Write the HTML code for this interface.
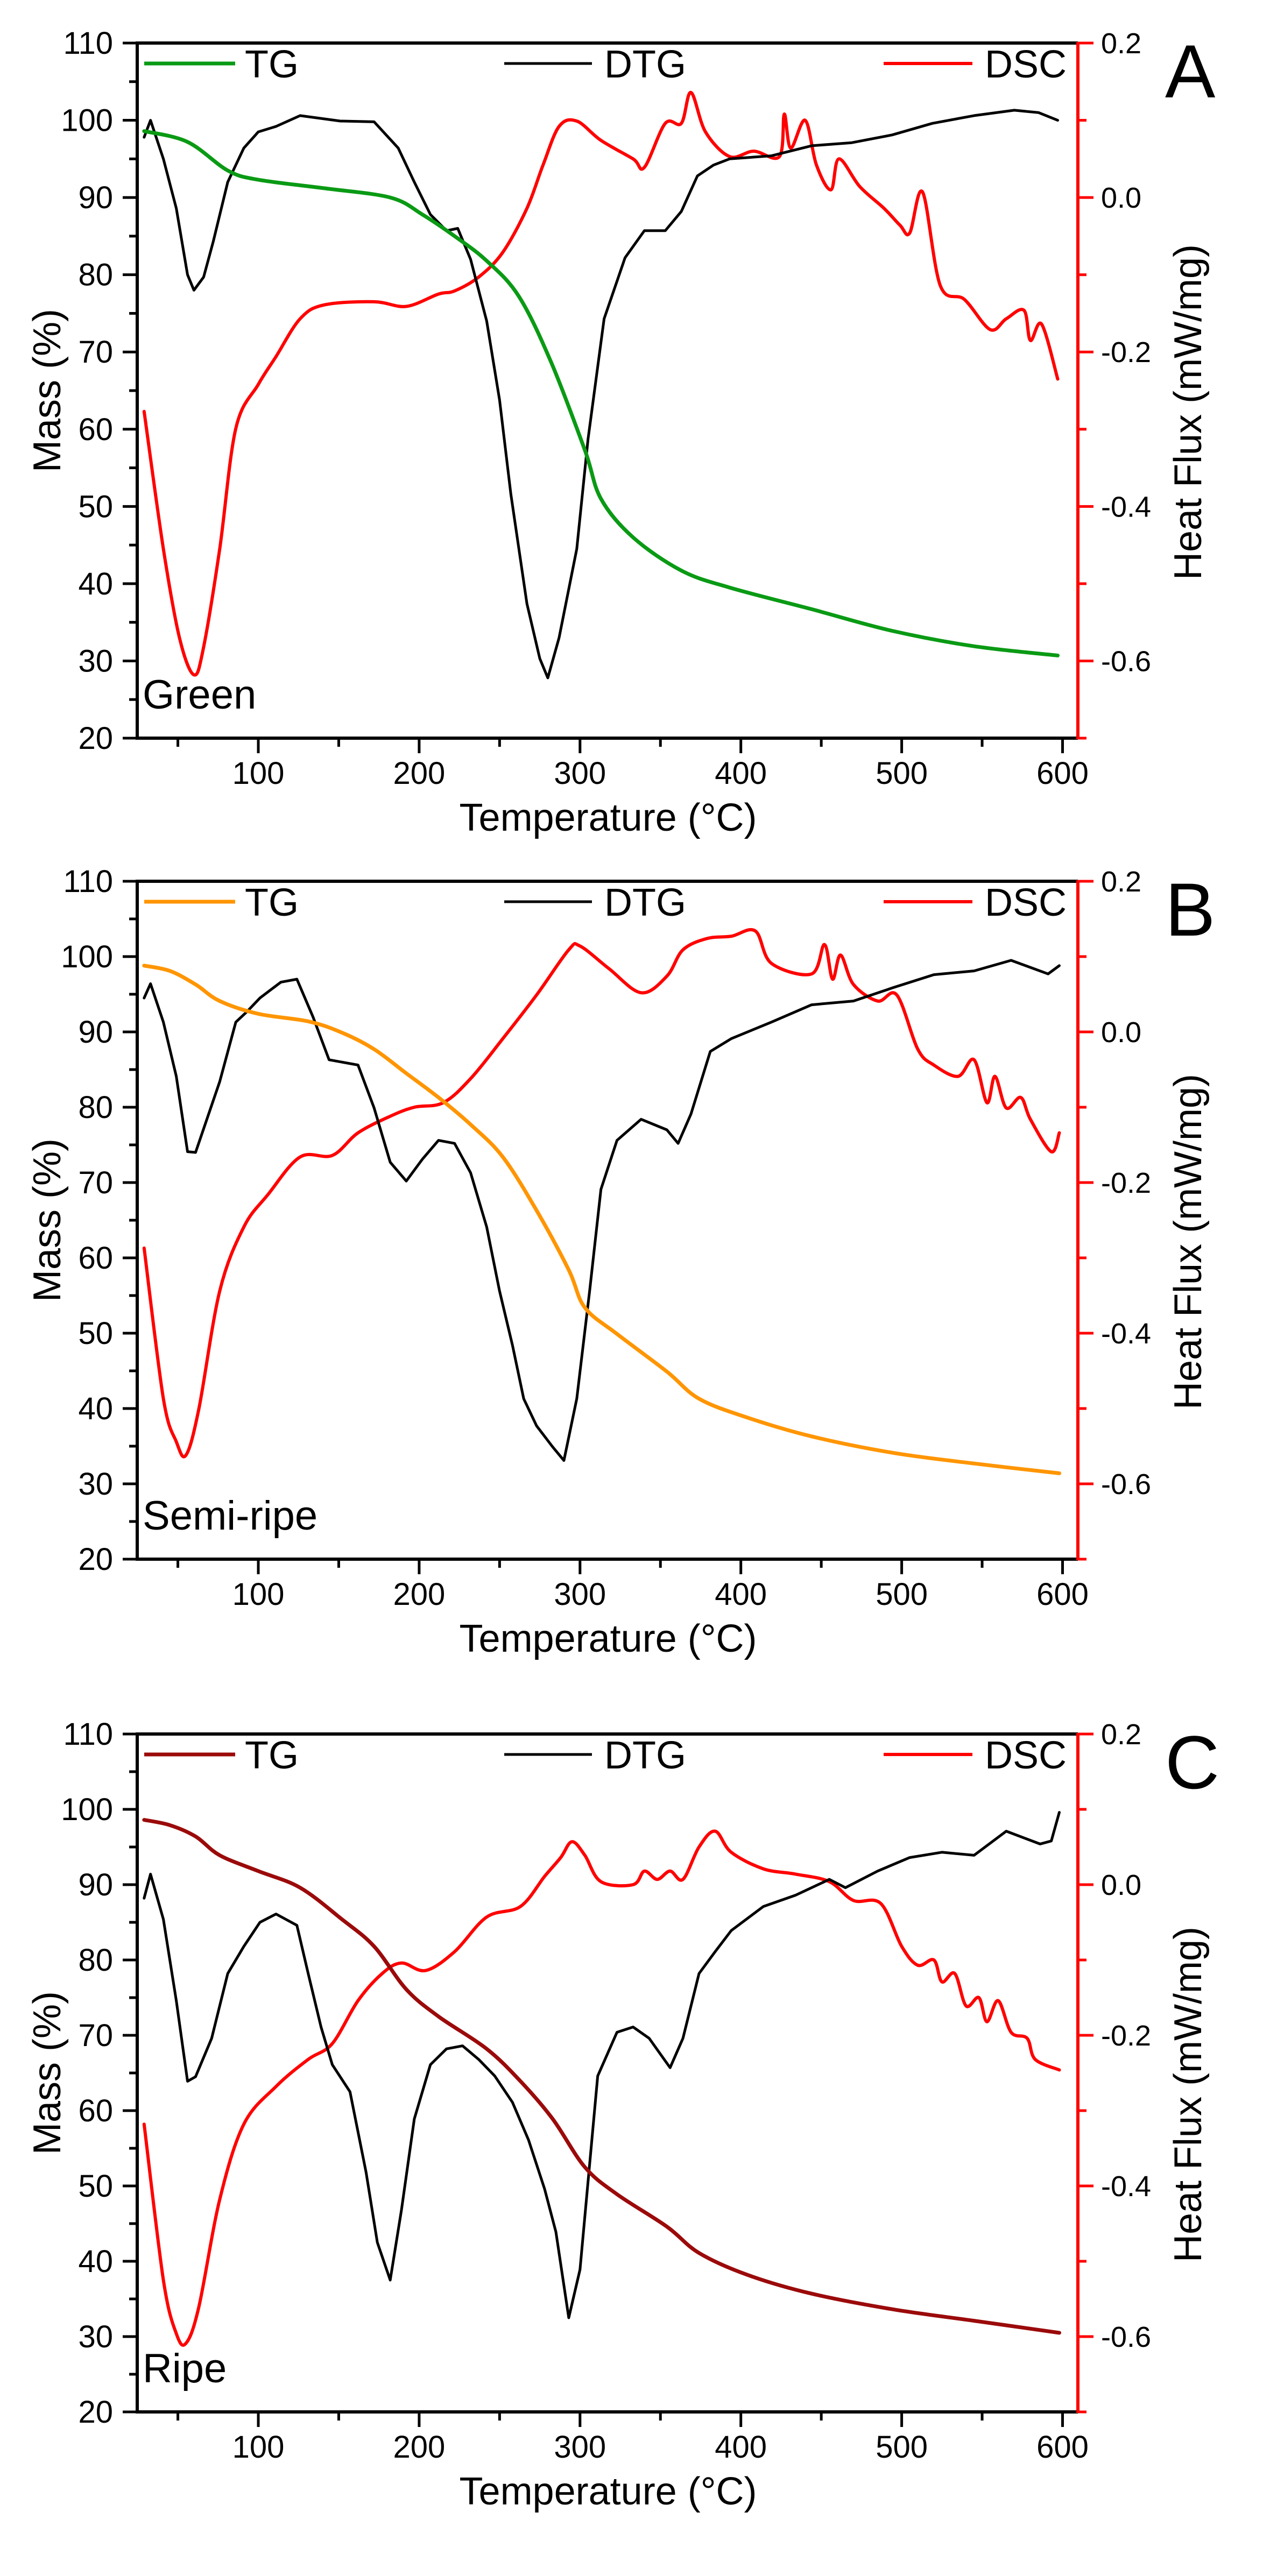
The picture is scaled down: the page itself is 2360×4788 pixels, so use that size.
<!DOCTYPE html>
<html><head><meta charset="utf-8">
<style>
html,body{margin:0;padding:0;background:#fff;}
svg{display:block;font-family:"Liberation Sans",Arial,sans-serif;}
</style></head>
<body>
<svg id="fig" width="2360" height="4788" viewBox="0 0 2360 4788" xmlns="http://www.w3.org/2000/svg"></svg>
<script>
// ---------- Panel A (Green) ----------
const tempA_TG = [29,56,81,100,141,182,202,222,242,262,282,303,313,333,363,393,444,494,545,597];
const massA_TG = [98.6,97.2,93.5,92.3,91.2,90,87.8,85,81.8,77.2,68.7,57.3,51,46,41.7,39.5,36.7,33.9,31.9,30.7];
const tempA_DTG = [29,33,41,49,56,60,66,72,81,91,100,111,126,151,172,187,197,207,217,224,232,242,250,257,267,275,280,287,298,305,315,328,340,353,363,373,383,393,419,444,469,494,519,545,570,585,597];
const valA_DTG = [97.8,100,95,88.6,80,78,79.7,84.3,92,96.4,98.5,99.2,100.6,99.9,99.8,96.4,92,87.8,85.7,86,82,74,63.8,51.6,37.4,30.3,27.8,33,44.5,58.7,74.3,82.2,85.7,85.7,88.2,92.8,94.2,95,95.4,96.7,97.1,98.1,99.6,100.6,101.3,101,100];
const tempA_DSC = [29,41,51,60,66,76,86,100,111,126,141,172,192,212,222,237,252,267,277,287,298,313,333,340,353,363,369,378,393,408,424,427,431,440,447,456,461,474,489,499,505,513,524,539,555,565,576,580,587,597];
const valA_DSC = [-0.277,-0.455,-0.57,-0.618,-0.582,-0.455,-0.299,-0.242,-0.206,-0.157,-0.139,-0.135,-0.141,-0.125,-0.121,-0.103,-0.071,-0.014,0.042,0.092,0.099,0.074,0.05,0.039,0.096,0.096,0.136,0.085,0.053,0.06,0.053,0.108,0.064,0.1,0.042,0.01,0.05,0.014,-0.014,-0.036,-0.046,0.007,-0.114,-0.132,-0.171,-0.157,-0.146,-0.185,-0.164,-0.235];

// ---------- Panel B (Semi-ripe) ----------
const tempB_TG = [29,45,61,76,100,131,152,172,192,212,232,252,273,293,303,323,354,374,404,444,495,545,598];
const massB_TG = [98.8,98.1,96.3,94.1,92.4,91.4,89.9,87.7,84.5,81.3,77.7,73.4,66.3,58.4,53.4,49.9,44.9,41.3,38.8,36.3,34.1,32.7,31.4];
const tempB_DTG = [29,33,41,49,56,61,68,76,86,93,101,114,124,134,144,162,172,182,192,202,212,222,232,242,250,258,265,273,283,290,298,306,313,323,338,354,361,369,381,394,419,444,470,495,520,545,568,591,598];
const valB_DTG = [94.5,96.4,91.3,84.1,74.1,74,78.4,83.4,91.3,92.7,94.5,96.6,97,92,86.3,85.6,79.9,72.7,70.2,73.1,75.6,75.2,71.3,64.1,55.6,48.4,41.3,37.7,34.9,33.1,41.3,55.6,69.1,75.6,78.4,77,75.2,79.1,87.4,89.1,91.3,93.6,94.1,95.9,97.6,98.1,99.5,97.7,98.8];
const tempB_DSC = [29,41,49,55,63,76,91,106,126,146,162,182,197,215,232,252,273,293,300,318,338,354,364,379,394,409,419,444,452,457,462,470,485,497,510,520,535,545,553,558,565,574,580,593,598];
const valB_DSC = [-0.287,-0.487,-0.544,-0.562,-0.501,-0.344,-0.259,-0.216,-0.166,-0.164,-0.134,-0.112,-0.1,-0.094,-0.062,-0.009,0.049,0.109,0.114,0.084,0.052,0.074,0.109,0.124,0.127,0.134,0.091,0.077,0.116,0.07,0.102,0.063,0.041,0.049,-0.023,-0.044,-0.059,-0.037,-0.094,-0.059,-0.101,-0.087,-0.116,-0.159,-0.134];

// ---------- Panel C (Ripe) ----------
const tempC_TG = [29,45,61,76,100,126,152,172,192,212,242,263,283,303,323,354,374,404,444,495,545,598];
const massC_TG = [98.6,97.9,96.4,93.9,91.8,89.6,85.4,81.8,76.1,72.5,68.2,63.9,58.9,52.5,48.9,44.6,41.1,38.2,35.7,33.6,32.1,30.5];
const tempC_DTG = [29,33,41,49,56,61,71,81,91,101,111,124,131,139,146,157,167,174,182,189,197,207,217,227,237,247,258,268,278,285,293,300,311,323,333,343,356,364,374,384,394,414,434,455,465,485,505,525,545,565,586,593,598];
const valC_DTG = [88.2,91.4,85.4,74.6,63.9,64.5,69.6,78.2,81.8,85,86.1,84.6,78.2,71.1,66.1,62.5,51.8,42.5,37.5,46.8,58.9,66.1,68.2,68.6,66.8,64.6,61.1,56.1,49.6,43.9,32.5,38.9,64.6,70.4,71.1,69.6,65.7,69.6,78.2,81.1,83.9,87.1,88.6,90.7,89.6,91.8,93.6,94.3,93.9,97.1,95.4,95.8,99.6];
const tempC_DSC = [29,41,49,55,63,76,91,111,131,146,162,177,189,204,222,242,263,278,288,295,303,313,333,340,348,356,364,374,384,394,414,434,455,470,487,500,510,520,525,533,540,548,553,560,568,578,583,598];
const valC_DSC = [-0.318,-0.525,-0.596,-0.609,-0.561,-0.418,-0.318,-0.268,-0.232,-0.211,-0.154,-0.118,-0.104,-0.114,-0.089,-0.043,-0.029,0.011,0.036,0.057,0.039,0.004,0,0.018,0.007,0.018,0.007,0.05,0.071,0.043,0.021,0.014,0.004,-0.021,-0.025,-0.082,-0.107,-0.1,-0.129,-0.118,-0.161,-0.15,-0.182,-0.154,-0.196,-0.204,-0.232,-0.246];

// ---------- Axis tick labels ----------
const xTickLabels = [100,200,300,400,500,600];
const yTickLabels = [20,30,40,50,60,70,80,90,100,110];
const rTickLabels = ["0.2","0.0","-0.2","-0.4","-0.6"];
const rTickValues = [0.2,0.0,-0.2,-0.4,-0.6];

const NS = "http://www.w3.org/2000/svg";
const svg = document.getElementById('fig');
function mk(tag, attrs, parent){ const e=document.createElementNS(NS,tag); for(const k in attrs) e.setAttribute(k,attrs[k]); (parent||svg).appendChild(e); return e; }

const panels = [
  {id:'a', top:80, bottom:1372, letter:'A', name:'Green', tgColor:'#0a9a14',
   tgT:tempA_TG, tgV:massA_TG, dT:tempA_DTG, dV:valA_DTG, sT:tempA_DSC, sV:valA_DSC},
  {id:'b', top:1638, bottom:2898, letter:'B', name:'Semi-ripe', tgColor:'#ff9500',
   tgT:tempB_TG, tgV:massB_TG, dT:tempB_DTG, dV:valB_DTG, sT:tempB_DSC, sV:valB_DSC},
  {id:'c', top:3223, bottom:4483, letter:'C', name:'Ripe', tgColor:'#9b0a0a',
   tgT:tempC_TG, tgV:massC_TG, dT:tempC_DTG, dV:valC_DTG, sT:tempC_DSC, sV:valC_DSC}
];

const L=255, R=2003;
function xs(t){ return 480 + (t-100)*2.989; }

function smoothPath(pts){
  let d = 'M'+pts[0][0].toFixed(1)+' '+pts[0][1].toFixed(1);
  for(let i=0;i<pts.length-1;i++){
    const p0=pts[Math.max(0,i-1)], p1=pts[i], p2=pts[i+1], p3=pts[Math.min(pts.length-1,i+2)];
    const c1x=p1[0]+(p2[0]-p0[0])/6, c1y=p1[1]+(p2[1]-p0[1])/6;
    const c2x=p2[0]-(p3[0]-p1[0])/6, c2y=p2[1]-(p3[1]-p1[1])/6;
    d += 'C'+c1x.toFixed(1)+' '+c1y.toFixed(1)+' '+c2x.toFixed(1)+' '+c2y.toFixed(1)+' '+p2[0].toFixed(1)+' '+p2[1].toFixed(1);
  }
  return d;
}

panels.forEach(p=>{
  const g = mk('g',{});
  
  
  const H = p.bottom - p.top;
  const ys = m => p.top + (110-m)*H/90;
  const yd = d => ys(90 + d*100);

  function path(T,V,f,color,w,name,smooth){
    const pts = T.map((t,i)=>[xs(t), f(V[i])]);
    let d;
    if(smooth){ d = smoothPath(pts); }
    else { d=''; pts.forEach((q,i)=>{ d += (i?'L':'M')+q[0].toFixed(1)+' '+q[1].toFixed(1); }); }
    const e = mk('path',{d:d,fill:'none',stroke:color,'stroke-width':w,'stroke-linejoin':'round','stroke-linecap':'round'},g);
    
    
  }
  path(p.sT,p.sV,yd,'#ff0000',6,'dsc-line',true);
  path(p.dT,p.dV,ys,'#000000',5,'dtg-line',false);
  path(p.tgT,p.tgV,ys,p.tgColor,7,'tg-line',true);

  const ax = mk('path',{d:`M${R} ${p.top}L${L} ${p.top}L${L} ${p.bottom}L${R} ${p.bottom}`,fill:'none',stroke:'#000','stroke-width':6},g);
  
  
  const ra = mk('line',{x1:R,y1:p.top-2,x2:R,y2:p.bottom+2,stroke:'#ff0000','stroke-width':6},g);
  
  

  for(let m=20;m<=110;m+=5){
    const y=ys(m), major = m%10===0;
    mk('line',{x1:major?228:240,y1:y,x2:L,y2:y,stroke:'#000','stroke-width':5},g);
  }
  yTickLabels.forEach(m=>{
    const t = mk('text',{x:210,y:ys(m)+20,'font-size':58,'text-anchor':'end',fill:'#000'},g);
    t.textContent = m;
    
    
  });
  for(let T=50;T<=600;T+=50){
    const x=xs(T), major=T%100===0;
    mk('line',{x1:x,y1:p.bottom,x2:x,y2:p.bottom+(major?28:16),stroke:'#000','stroke-width':5},g);
  }
  xTickLabels.forEach(T=>{
    const t = mk('text',{x:xs(T),y:p.bottom+85,'font-size':58,'text-anchor':'middle',fill:'#000'},g);
    t.textContent = T;
    
    
  });
  for(let k=-7;k<=2;k++){
    const y=yd(k/10), major = k%2===0;
    mk('line',{x1:R,y1:y,x2:major?2032:2019,y2:y,stroke:'#ff0000','stroke-width':5},g);
  }
  rTickValues.forEach((v,i)=>{
    const t = mk('text',{x:2046,y:yd(v)+19,'font-size':54,fill:'#000'},g);
    t.textContent = rTickLabels[i];
    
    
  });

  const midY = (p.top+p.bottom)/2;
  const yt = mk('text',{x:0,y:0,'font-size':72,'text-anchor':'middle',fill:'#000',transform:`translate(112 ${midY}) rotate(-90)`},g);
  yt.textContent = 'Mass (%)';
  
  
  const rt = mk('text',{x:0,y:0,'font-size':72,'text-anchor':'middle',fill:'#000',transform:`translate(2232 ${midY+40}) rotate(-90)`},g);
  rt.textContent = 'Heat Flux (mW/mg)';
  
  
  const xt = mk('text',{x:1130,y:p.bottom+172,'font-size':72,'text-anchor':'middle',fill:'#000'},g);
  xt.textContent = 'Temperature (°C)';
  
  

  const legY = p.top + 38;
  [[268,437,455,p.tgColor,'TG',7],[937,1100,1123,'#000','DTG',5],[1642,1807,1830,'#ff0000','DSC',6]].forEach(l=>{
    const ln = mk('line',{x1:l[0],y1:legY,x2:l[1],y2:legY,stroke:l[3],'stroke-width':l[5]},g);
    
    
    const t = mk('text',{x:l[2],y:legY+26,'font-size':72,fill:'#000'},g);
    t.textContent = l[4];
    
    
  });

  const lt = mk('text',{x:2165,y:p.top+101,'font-size':140,fill:'#000'},g);
  lt.textContent = p.letter;
  
  
  const nm = mk('text',{x:265,y:p.bottom-55,'font-size':76,fill:'#000'},g);
  nm.textContent = p.name;
  
  
});
</script>
</body></html>
